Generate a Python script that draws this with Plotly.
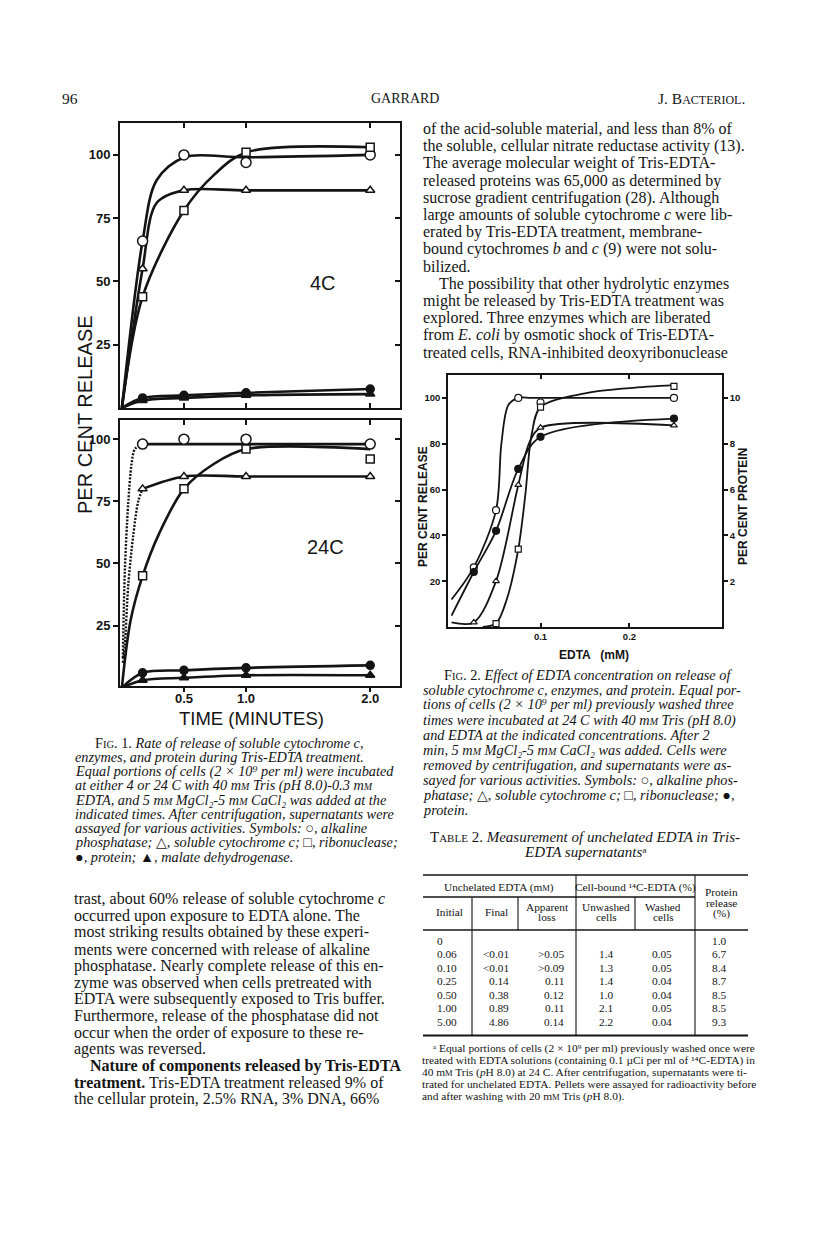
import plotly.graph_objects as go

W, H = 816, 1250
def px(x): return x / W
def py(y): return 1 - y / H

# ---------------- Fig. 1 data (time in minutes, % release) ----------------
t_min = [0.167, 0.5, 1.0, 2.0]
# 4 C
alk_4c = [66, 100, 97, 100]
cyt_4c = [55, 86, 86, 86]
rnase_4c = [44, 78, 101, 103]
prot_4c = [4, 5, 6, 7.5]
mdh_4c = [3, 4, 5, 5.5]
# hand-drawn curves, 4 C
alk_4c_ct = [0, 0.167, 0.28, 0.5, 1.0, 2.0]
alk_4c_cv = [0, 66, 90, 99, 99, 100]
cyt_4c_ct = [0, 0.167, 0.28, 0.5, 1.0, 2.0]
cyt_4c_cv = [0, 55, 81, 86, 86, 86]
rnase_4c_ct = [0, 0.167, 0.5, 0.74, 1.0, 2.0]
rnase_4c_cv = [0, 44, 78, 92, 101, 103]
# 24 C
alk_24c = [98, 100, 100, 98]
cyt_24c = [80, 85, 85, 85]
rnase_24c = [45, 80, 96, 92]
prot_24c = [6, 7, 8, 9]
mdh_24c = [3, 4, 5, 5]
# hand-drawn curves, 24 C
alk_24c_ct = [0.167, 1.0, 2.0]
alk_24c_cv = [98, 98, 98]
alk_24c_dot_t = [0.008, 0.024, 0.051, 0.078, 0.105, 0.167]
alk_24c_dot_v = [12, 47, 74, 90, 96, 98]
cyt_24c_ct = [0.167, 0.5, 1.0, 2.0]
cyt_24c_cv = [80, 85, 85, 85]
cyt_24c_dot_t = [0.008, 0.024, 0.051, 0.091, 0.132, 0.167]
cyt_24c_dot_v = [10, 17, 41, 61, 75, 80]
rnase_24c_ct = [0, 0.07, 0.167, 0.3, 0.5, 0.74, 1.0, 2.0]
rnase_24c_cv = [0, 27, 45, 62, 80, 90, 96, 96]

# ---------------- Fig. 2 data (EDTA mM) ----------------
edta = [0.025, 0.05, 0.075, 0.1, 0.25]
alk_e = [26, 51, 100, 98, 100]
cyt_e = [2, 20, 62, 87, 88]
rnase_edta = [0.05, 0.075, 0.1, 0.25]
rnase_e = [1.5, 34, 96, 105]
prot_e = [2.4, 4.2, 6.9, 8.3, 9.1]  # per cent protein (right axis)
alk_e_ct = [0, 0.025, 0.05, 0.056, 0.064, 0.075, 0.09, 0.15, 0.25]
alk_e_cv = [12, 26, 51, 80, 97, 100, 100, 100, 100]
cyt_e_ct = [0, 0.025, 0.05, 0.075, 0.088, 0.1, 0.25]
cyt_e_cv = [2, 2, 20, 62, 81, 87, 88]
rnase_e_ct = [0.035, 0.05, 0.062, 0.075, 0.083, 0.09, 0.1, 0.15, 0.2, 0.25]
rnase_e_cv = [0, 1.5, 12, 34, 58, 84, 96, 102, 104.3, 105.6]
prot_e_ct = [0, 0.025, 0.05, 0.075, 0.1, 0.25]
prot_e_cv = [0.5, 2.4, 4.2, 6.9, 8.3, 9.1]

# ---------------- Table 2 ----------------
tbl_initial = ["0", "0.06", "0.10", "0.25", "0.50", "1.00", "5.00"]
tbl_final = ["", "<0.01", "<0.01", "0.14", "0.38", "0.89", "4.86"]
tbl_loss = ["", ">0.05", ">0.09", "0.11", "0.12", "0.11", "0.14"]
tbl_unwashed = ["", "1.4", "1.3", "1.4", "1.0", "2.1", "2.2"]
tbl_washed = ["", "0.05", "0.05", "0.04", "0.04", "0.05", "0.04"]
tbl_protein = ["1.0", "6.7", "8.4", "8.7", "8.5", "8.5", "9.3"]

INK = "#141414"
SANS = "Liberation Sans"
SERIF = "Liberation Serif"

fig = go.Figure()

def curve(x, y, xa, ya, width=2.6, dash="solid"):
    fig.add_trace(go.Scatter(x=x, y=y, xaxis=xa, yaxis=ya, mode="lines",
                             line=dict(color=INK, width=width, shape="spline", smoothing=0.9, dash=dash),
                             hoverinfo="skip"))

def marks(x, y, xa, ya, symbol, size, filled=False, lw=1.5):
    fig.add_trace(go.Scatter(x=x, y=y, xaxis=xa, yaxis=ya, mode="markers",
                             marker=dict(symbol=symbol, size=size,
                                         color=INK if filled else "white",
                                         line=dict(color=INK, width=lw))))

# Fig 1 top (4 C)
curve(alk_4c_ct, alk_4c_cv, "x", "y")
curve(cyt_4c_ct, cyt_4c_cv, "x", "y")
curve(rnase_4c_ct, rnase_4c_cv, "x", "y")
curve([0] + t_min, [0] + prot_4c, "x", "y")
curve([0] + t_min, [0] + mdh_4c, "x", "y")
marks(t_min, alk_4c, "x", "y", "circle", 10)
marks(t_min, cyt_4c, "x", "y", "triangle-up", 8)
marks(t_min, rnase_4c, "x", "y", "square", 8)
marks(t_min, prot_4c, "x", "y", "circle", 8, True)
marks(t_min, mdh_4c, "x", "y", "triangle-up", 8, True)

# Fig 1 bottom (24 C)
curve(alk_24c_ct, alk_24c_cv, "x3", "y3")
curve(alk_24c_dot_t, alk_24c_dot_v, "x3", "y3", width=2.4, dash="2px,1.5px")
curve(cyt_24c_ct, cyt_24c_cv, "x3", "y3")
curve(cyt_24c_dot_t, cyt_24c_dot_v, "x3", "y3", width=2.4, dash="2px,1.5px")
curve(rnase_24c_ct, rnase_24c_cv, "x3", "y3")
curve([0] + t_min, [0] + prot_24c, "x3", "y3")
curve([0] + t_min, [0] + mdh_24c, "x3", "y3")
marks(t_min, alk_24c, "x3", "y3", "circle", 10)
marks(t_min, cyt_24c, "x3", "y3", "triangle-up", 8)
marks(t_min, rnase_24c, "x3", "y3", "square", 8)
marks(t_min, prot_24c, "x3", "y3", "circle", 8, True)
marks(t_min, mdh_24c, "x3", "y3", "triangle-up", 8, True)

# Fig 2
curve(alk_e_ct, alk_e_cv, "x5", "y5", width=1.8)
curve(cyt_e_ct, cyt_e_cv, "x5", "y5", width=1.8)
curve(rnase_e_ct, rnase_e_cv, "x5", "y5", width=1.8)
curve(prot_e_ct, prot_e_cv, "x5", "y6", width=1.8)
marks(edta, alk_e, "x5", "y5", "circle", 7, lw=1.2)
marks(edta, cyt_e, "x5", "y5", "triangle-up", 6, lw=1.2)
marks(rnase_edta, rnase_e, "x5", "y5", "square", 6, lw=1.2)
marks(edta, prot_e, "x5", "y6", "circle", 7, True, lw=1.2)

# empty traces so overlay frame axes are registered
for xa, ya in [("x2", "y2"), ("x4", "y4"), ("x6", "y6")]:
    fig.add_trace(go.Scatter(x=[], y=[], xaxis=xa, yaxis=ya, mode="lines"))

def ax(**kw):
    d = dict(showline=True, linecolor=INK, linewidth=2, showgrid=False, zeroline=False,
             ticks="outside", tickcolor=INK, tickwidth=2, ticklen=5, fixedrange=True,
             tickfont=dict(family=SANS, size=13, color=INK, weight="bold"))
    d.update(kw)
    return d

f1x = [px(120), px(400)]
xr1 = [-0.015, 2.24]
top_y = [py(408), py(123)]
bot_y = [py(686), py(420)]
f2x = [px(448), px(722)]
f2y = [py(627), py(375)]
f2font = dict(family=SANS, size=9.5, color=INK, weight="bold")

fig.update_layout(
    width=W, height=H, margin=dict(l=0, r=0, t=0, b=0),
    paper_bgcolor="white", plot_bgcolor="white", showlegend=False,
    xaxis=ax(domain=f1x, range=xr1, anchor="y", tickvals=[0.5, 1, 2], ticks="inside", showticklabels=False),
    xaxis2=ax(range=xr1, overlaying="x", side="top", anchor="y", tickvals=[0.5, 1, 2], ticks="inside", showticklabels=False),
    yaxis=ax(domain=top_y, range=[0, 112.6], anchor="x", tickvals=[25, 50, 75, 100]),
    yaxis2=ax(range=[0, 112.6], overlaying="y", side="right", anchor="x", tickvals=[25, 50, 75, 100], ticks="inside", showticklabels=False),
    xaxis3=ax(domain=f1x, range=xr1, anchor="y3", tickvals=[0.5, 1, 2], ticktext=["0.5", "1.0", "2.0"],
              ticklen=4, ticklabelstandoff=-5),
    xaxis4=ax(range=xr1, overlaying="x3", side="top", anchor="y3", tickvals=[0.5, 1, 2], ticks="inside", showticklabels=False),
    yaxis3=ax(domain=bot_y, range=[0.7, 107.7], anchor="x3", tickvals=[25, 50, 75, 100]),
    yaxis4=ax(range=[0.7, 107.7], overlaying="y3", side="right", anchor="x3", tickvals=[25, 50, 75, 100], ticks="inside", showticklabels=False),
    xaxis5=ax(domain=f2x, range=[-0.004, 0.304], anchor="y5", tickvals=[0.1, 0.2], ticktext=["0.1", "0.2"],
              ticks="inside", ticklen=4, linewidth=1.6, tickwidth=1.5, tickfont=f2font),
    xaxis6=ax(range=[-0.004, 0.304], overlaying="x5", side="top", anchor="y5", tickvals=[0.1, 0.2],
              ticks="inside", ticklen=4, linewidth=1.6, tickwidth=1.5, showticklabels=False),
    yaxis5=ax(domain=f2y, range=[0, 110], anchor="x5", tickvals=[20, 40, 60, 80, 100], ticklen=4,
              linewidth=1.6, tickwidth=1.5, tickfont=f2font),
    yaxis6=ax(range=[0, 11], overlaying="y5", side="right", anchor="x5", tickvals=[2, 4, 6, 8, 10], ticklen=4,
              linewidth=1.6, tickwidth=1.5, tickfont=f2font),
)

ann = []
def text(s, x, y, size, family=SERIF, xanchor="left", angle=0, color=INK):
    if s == "":
        return
    ann.append(dict(text=s, x=px(x), y=py(y), xref="paper", yref="paper", showarrow=False,
                    xanchor=xanchor, yanchor="middle", textangle=angle,
                    font=dict(family=family, size=size, color=color)))

def sc(s, size):
    return f"<span style='font-size:{size}px'>{s}</span>"

def mm(size=10):
    return "m" + sc("M", size)

# header
text("96", 60, 98, 15.5)
text("GARRARD", 405, 98, 14, xanchor="center")
text("J. B" + sc("ACTERIOL", 12) + ".", 747, 98, 15.5, xanchor="right")

# Fig 1 labels
text("4C", 323, 283, 20, family=SANS, xanchor="center")
text("24C", 325, 547, 20, family=SANS, xanchor="center")
text("PER CENT RELEASE", 85, 415, 20, family=SANS, xanchor="center", angle=-90)
text("TIME (MINUTES)", 251, 718, 18.5, family=SANS, xanchor="center")

# Fig 2 labels
b = lambda s: f"<b>{s}</b>"
text(b("PER CENT RELEASE"), 423, 507, 12, family=SANS, xanchor="center", angle=-90)
text(b("PER CENT PROTEIN"), 743, 507, 12, family=SANS, xanchor="center", angle=-90)
text(b("EDTA &nbsp; (mM)"), 594, 655, 12, family=SANS, xanchor="center")

# Fig 1 caption
cap1 = [
    "F" + sc("IG", 10.5) + ". 1. <i>Rate of release of soluble cytochrome c,</i>",
    "<i>enzymes, and protein during Tris-EDTA treatment.</i>",
    "<i>Equal portions of cells (2 × 10⁹ per ml) were incubated</i>",
    f"<i>at either 4 or 24 C with 40 {mm()} Tris (pH 8.0)-0.3 {mm()}</i>",
    f"<i>EDTA, and 5 {mm()} MgCl₂-5 {mm()} CaCl₂ was added at the</i>",
    "<i>indicated times. After centrifugation, supernatants were</i>",
    "<i>assayed for various activities. Symbols: </i>○<i>, alkaline</i>",
    "<i>phosphatase; </i>△<i>, soluble cytochrome c; </i>□<i>, ribonuclease;</i>",
    "●<i>, protein; </i>▲<i>, malate dehydrogenase.</i>",
]
for i, s in enumerate(cap1):
    text(s, 93 if i == 0 else 73, 743 + 14.2 * i, 14.3)

# left column body
body_l = [
    "trast, about 60% release of soluble cytochrome <i>c</i>",
    "occurred upon exposure to EDTA alone. The",
    "most striking results obtained by these experi-",
    "ments were concerned with release of alkaline",
    "phosphatase. Nearly complete release of this en-",
    "zyme was observed when cells pretreated with",
    "EDTA were subsequently exposed to Tris buffer.",
    "Furthermore, release of the phosphatase did not",
    "occur when the order of exposure to these re-",
    "agents was reversed.",
    "<b>Nature of components released by Tris-EDTA</b>",
    "<b>treatment.</b> Tris-EDTA treatment released 9% of",
    "the cellular protein, 2.5% RNA, 3% DNA, 66%",
]
for i, s in enumerate(body_l):
    text(s, 88 if i == 10 else 72, 899 + 16.7 * i, 16)

# right column body
body_r = [
    "of the acid-soluble material, and less than 8% of",
    "the soluble, cellular nitrate reductase activity (13).",
    "The average molecular weight of Tris-EDTA-",
    "released proteins was 65,000 as determined by",
    "sucrose gradient centrifugation (28). Although",
    "large amounts of soluble cytochrome <i>c</i> were lib-",
    "erated by Tris-EDTA treatment, membrane-",
    "bound cytochromes <i>b</i> and <i>c</i> (9) were not solu-",
    "bilized.",
    "The possibility that other hydrolytic enzymes",
    "might be released by Tris-EDTA treatment was",
    "explored. Three enzymes which are liberated",
    "from <i>E. coli</i> by osmotic shock of Tris-EDTA-",
    "treated cells, RNA-inhibited deoxyribonuclease",
]
for i, s in enumerate(body_r):
    text(s, 437 if i == 9 else 421, 129 + 17.2 * i, 16)

# Fig 2 caption
cap2 = [
    "F" + sc("IG", 10.5) + ". 2. <i>Effect of EDTA concentration on release of</i>",
    "<i>soluble cytochrome c, enzymes, and protein. Equal por-</i>",
    "<i>tions of cells (2 × 10⁹ per ml) previously washed three</i>",
    f"<i>times were incubated at 24 C with 40 {mm()} Tris (pH 8.0)</i>",
    "<i>and EDTA at the indicated concentrations. After 2</i>",
    f"<i>min, 5 {mm()} MgCl₂-5 {mm()} CaCl₂ was added. Cells were</i>",
    "<i>removed by centrifugation, and supernatants were as-</i>",
    "<i>sayed for various activities. Symbols: </i>○<i>, alkaline phos-</i>",
    "<i>phatase; </i>△<i>, soluble cytochrome c; </i>□<i>, ribonuclease; </i>●<i>,</i>",
    "<i>protein.</i>",
]
for i, s in enumerate(cap2):
    text(s, 442 if i == 0 else 421, 675 + 15 * i, 14.3)

# Table 2 title
text("T" + sc("ABLE", 11) + " 2. <i>Measurement of unchelated EDTA in Tris-</i>", 585, 837, 15, xanchor="center")
text("<i>EDTA supernatants</i>ᵃ", 585, 852, 15, xanchor="center")

# table header
TS = 11.3
text(f"Unchelated EDTA ({mm(8.5)})", 499, 887, TS, xanchor="center")
text("Cell-bound ¹⁴C-EDTA (%)", 635, 887, TS, xanchor="center")
text("Protein", 721, 892, TS, xanchor="center")
text("release", 721, 902.5, TS, xanchor="center")
text("(%)", 721, 913, TS, xanchor="center")
text("Initial", 449, 912, TS, xanchor="center")
text("Final", 497, 912, TS, xanchor="center")
text("Apparent", 547, 907, TS, xanchor="center")
text("loss", 547, 917, TS, xanchor="center")
text("Unwashed", 606, 907, TS, xanchor="center")
text("cells", 606, 917, TS, xanchor="center")
text("Washed", 663, 907, TS, xanchor="center")
text("cells", 663, 917, TS, xanchor="center")

for i in range(len(tbl_initial)):
    yy = 941 + 13.45 * i
    text(tbl_initial[i], 435, yy, TS)
    text(tbl_final[i].replace("<", "&lt;"), 511, yy, TS, xanchor="right")
    text(tbl_loss[i].replace(">", "&gt;"), 566, yy, TS, xanchor="right")
    text(tbl_unwashed[i], 606, yy, TS, xanchor="center")
    text(tbl_washed[i], 662, yy, TS, xanchor="center")
    text(tbl_protein[i], 719, yy, TS, xanchor="center")

foot = [
    "ᵃ Equal portions of cells (2 × 10⁹ per ml) previously washed once were",
    "treated with EDTA solutions (containing 0.1 µCi per ml of ¹⁴C-EDTA) in",
    f"40 {mm(8.5)} Tris (<i>p</i>H 8.0) at 24 C. After centrifugation, supernatants were ti-",
    "trated for unchelated EDTA. Pellets were assayed for radioactivity before",
    f"and after washing with 20 {mm(8.5)} Tris (<i>p</i>H 8.0).",
]
for i, s in enumerate(foot):
    text(s, 431 if i == 0 else 420, 1048 + 12 * i, 11.4)

fig.update_layout(annotations=ann)

# table rules
def hline(y, x0, x1, w=1.3):
    fig.add_shape(type="line", xref="paper", yref="paper", x0=px(x0), x1=px(x1), y0=py(y), y1=py(y),
                  line=dict(color=INK, width=w))
def vline(x, y0, y1, w=1.1):
    fig.add_shape(type="line", xref="paper", yref="paper", x0=px(x), x1=px(x), y0=py(y0), y1=py(y1),
                  line=dict(color=INK, width=w))
hline(875, 423, 748, 1.6)
hline(897, 423, 695)
hline(930, 423, 748, 1.4)
hline(1035.5, 423, 748, 2)
vline(472, 897, 1035.5)
vline(518, 897, 930)
vline(576, 875, 1035.5)
vline(635, 897, 930)
vline(695, 875, 1035.5)

fig.write_html("out.html", config={"displayModeBar": False},
               post_script="document.body.style.margin='0';document.body.style.padding='0';")
